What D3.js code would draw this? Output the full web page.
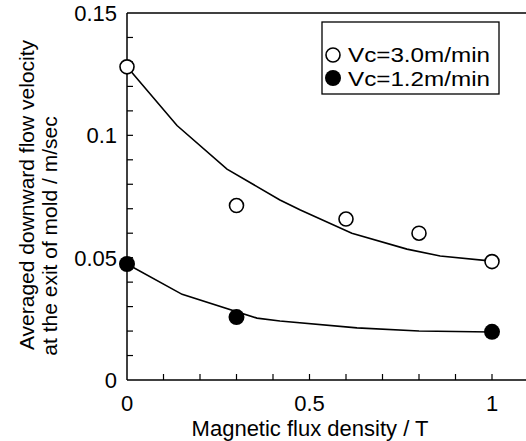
<!DOCTYPE html>
<html><head><meta charset="utf-8">
<script src="https://cdn.jsdelivr.net/npm/d3@7"></script>
<style>body{margin:0;background:#fff}svg{display:block}text{font-family:"Liberation Sans",Arial,sans-serif;fill:#000}</style>
</head><body><svg id="c" width="526" height="441"></svg>
<script>
const xTicks = [0, 0.5, 1];
const xTickLabels = ["0", "0.5", "1"];
const yTicks = [0, 0.05, 0.1, 0.15];
const yTickLabels = ["0", "0.05", "0.1", "0.15"];
const openX = [0, 0.3, 0.6, 0.8, 1.0];
const openY = [0.128, 0.0713, 0.0658, 0.060, 0.0484];
const filledX = [0, 0.3, 1.0];
const filledY = [0.0474, 0.0257, 0.0197];
const openCurveX = [0, 0.137, 0.274, 0.419, 0.475, 0.616, 0.767, 0.858, 1.0];
const openCurveY = [0.128, 0.104, 0.0862, 0.0736, 0.0695, 0.060, 0.0535, 0.0507, 0.0486];
const filledCurveX = [0, 0.151, 0.356, 0.419, 0.63, 0.80, 1.0];
const filledCurveY = [0.0474, 0.035, 0.0253, 0.0241, 0.0213, 0.020, 0.0196];
const seriesNames = ["Vc=3.0m/min", "Vc=1.2m/min"];

const svg = d3.select("#c");
const x = d3.scaleLinear().domain([0, 1]).range([127, 492]);
const y = d3.scaleLinear().domain([0, 0.15]).range([380, 13]);
const xEnd = 526;

// frame lines
svg.append("line").attr("x1", x(0)).attr("x2", xEnd).attr("y1", y(0)).attr("y2", y(0)).attr("stroke", "#000").attr("stroke-width", 1.5);
svg.append("line").attr("x1", x(0)).attr("x2", xEnd).attr("y1", y(0.15)).attr("y2", y(0.15)).attr("stroke", "#000").attr("stroke-width", 1.5);
svg.append("line").attr("x1", x(0)).attr("x2", x(0)).attr("y1", y(0)).attr("y2", y(0.15)).attr("stroke", "#000").attr("stroke-width", 1.5);

// minor ticks (inward)
const yMinor = d3.range(1, 15).map(i => i / 100);
svg.append("g").selectAll("line").data(yMinor).join("line")
  .attr("x1", x(0)).attr("x2", x(0) + 6).attr("y1", d => y(d)).attr("y2", d => y(d))
  .attr("stroke", "#000").attr("stroke-width", 1.2);
const xMinor = d3.range(1, 11).map(i => i / 10);
svg.append("g").selectAll("line").data(xMinor).join("line")
  .attr("x1", d => x(d)).attr("x2", d => x(d)).attr("y1", y(0)).attr("y2", y(0) - 6)
  .attr("stroke", "#000").attr("stroke-width", 1.2);

// tick labels
svg.append("g").selectAll("text").data(yTicks).join("text")
  .attr("x", 117).attr("y", d => y(d)).attr("dy", "0.36em").attr("text-anchor", "end")
  .attr("font-size", 22).text((d, i) => yTickLabels[i]);
svg.append("g").selectAll("text").data(xTicks).join("text")
  .attr("x", d => x(d)).attr("y", 411).attr("text-anchor", "middle")
  .attr("font-size", 22).text((d, i) => xTickLabels[i]);

// axis titles
svg.append("text").attr("x", 310).attr("y", 436).attr("text-anchor", "middle")
  .attr("font-size", 22).text("Magnetic flux density / T");
svg.append("text").attr("transform", "translate(34,195) rotate(-90)").attr("text-anchor", "middle")
  .attr("font-size", 21).text("Averaged downward flow velocity");
svg.append("text").attr("transform", "translate(57,236) rotate(-90)").attr("text-anchor", "middle")
  .attr("font-size", 21).text("at the exit of mold / m/sec");

// curves
const line = d3.line().x(d => x(d[0])).y(d => y(d[1]));
svg.append("path").datum(d3.zip(openCurveX, openCurveY)).attr("d", line)
  .attr("fill", "none").attr("stroke", "#000").attr("stroke-width", 1.6);
svg.append("path").datum(d3.zip(filledCurveX, filledCurveY)).attr("d", line)
  .attr("fill", "none").attr("stroke", "#000").attr("stroke-width", 1.6);

// points
svg.append("g").selectAll("circle").data(d3.zip(openX, openY)).join("circle")
  .attr("cx", d => x(d[0])).attr("cy", d => y(d[1])).attr("r", 7)
  .attr("fill", "#fff").attr("stroke", "#000").attr("stroke-width", 1.6);
svg.append("g").selectAll("circle").data(d3.zip(filledX, filledY)).join("circle")
  .attr("cx", d => x(d[0])).attr("cy", d => y(d[1])).attr("r", 8)
  .attr("fill", "#000");

// legend
const lg = svg.append("g");
lg.append("rect").attr("x", 322).attr("y", 22).attr("width", 177).attr("height", 72)
  .attr("fill", "#fff").attr("stroke", "#000").attr("stroke-width", 1.3);
lg.append("circle").attr("cx", 333).attr("cy", 55).attr("r", 7).attr("fill", "#fff").attr("stroke", "#000").attr("stroke-width", 1.6);
lg.append("circle").attr("cx", 333).attr("cy", 78).attr("r", 8).attr("fill", "#000");
lg.selectAll("text").data(seriesNames).join("text")
  .attr("x", 348).attr("y", (d, i) => 62 + i * 24).attr("font-size", 21)
  .attr("textLength", 142).attr("lengthAdjust", "spacingAndGlyphs").text(d => d);
</script></body></html>
